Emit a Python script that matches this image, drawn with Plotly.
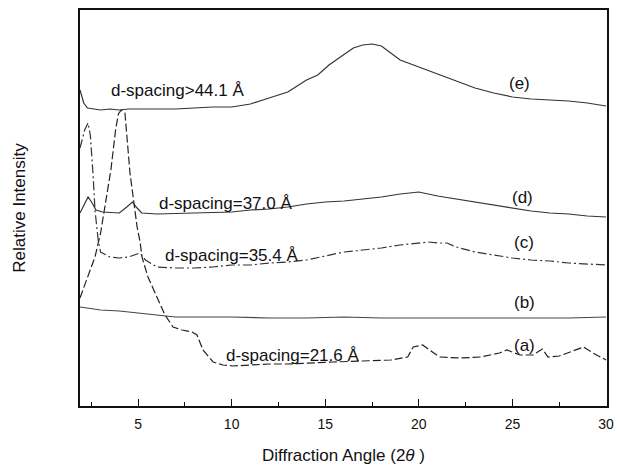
import plotly.graph_objects as go

# ---- data (2-theta in degrees, relative intensity in arbitrary units) ----
xa = [1.9, 2.3, 2.7, 3.0, 3.3, 3.55, 3.8, 3.95, 4.1, 4.3, 4.57, 4.95, 5.11, 5.21, 5.53, 6.01,
      6.44, 6.87, 7.35, 7.88, 8.15, 8.47, 9.01, 9.54, 10.07, 11.0, 12.0, 13.0, 14.0, 15.4,
      17.0, 18.5, 19.4, 19.7, 20.2, 20.76, 21.1, 22.2, 23.3, 24.3, 24.7, 25.4, 26.1, 26.6,
      26.9, 27.5, 28.45, 28.8, 29.3, 30.0]
ya = [108, 129, 149, 173, 206, 236, 276, 292, 296, 293, 233, 179, 164, 149, 129, 109,
      91, 79, 76, 74, 71, 56, 44, 41, 40, 41, 42, 42, 43, 44,
      45, 46, 49, 59, 61, 54, 49, 48, 49, 53, 56, 51, 51, 57,
      49, 50, 56, 59, 53, 46]

xb = [1.9, 3.0, 4.0, 5.0, 6.0, 7.0, 8.0, 10.0, 12.0, 14.0, 16.0, 18.0, 20.0, 22.0, 24.0,
      26.0, 28.0, 30.0]
yb = [99, 96, 95, 93, 91, 89, 89, 89, 88, 88, 89, 88, 88, 88, 88, 88, 88, 89]

xc = [1.9, 2.0, 2.15, 2.33, 2.45, 2.6, 2.7, 2.87, 3.0, 3.5, 4.0, 4.5, 4.9, 5.1, 5.4, 6.0,
      7.0, 8.0, 9.0, 10.0, 11.0, 12.0, 13.0, 14.0, 15.0, 16.0, 17.0, 18.0, 19.0, 20.0,
      20.5, 21.0, 21.5, 22.0, 23.0, 24.0, 25.0, 26.0, 27.0, 28.0, 29.0, 30.0]
yc = [258, 266, 276, 283, 271, 231, 196, 166, 154, 149, 148, 149, 152, 153, 146, 139,
      138, 138, 139, 141, 141, 143, 144, 146, 150, 154, 156, 158, 161, 163,
      164, 163, 163, 159, 154, 151, 148, 146, 145, 143, 142, 141]

xd = [1.9, 2.1, 2.33, 2.55, 2.75, 3.1, 4.0, 4.4, 4.7, 4.95, 5.2, 6.0, 8.0, 10.0, 11.0,
      12.0, 13.0, 14.0, 15.0, 16.0, 17.0, 18.0, 19.0, 20.0, 21.0, 22.0, 23.0, 24.0, 25.0,
      26.0, 27.0, 28.0, 29.0, 30.0]
yd = [193, 201, 209, 203, 196, 194, 193, 199, 204, 198, 193, 192, 193, 194, 196,
      197, 199, 202, 204, 205, 207, 209, 212, 214, 210, 207, 204, 201, 198,
      195, 193, 192, 190, 189]

xe = [1.9, 2.1, 2.3, 2.6, 3.0, 3.5, 4.0, 4.5, 5.0, 6.0, 7.0, 8.0, 9.0, 10.0, 11.0, 12.0,
      13.0, 14.0, 14.6, 15.2, 16.0, 16.5, 17.0, 17.5, 18.0, 18.5, 19.0, 20.0, 21.0, 22.0,
      23.0, 24.0, 25.0, 26.0, 27.0, 28.0, 29.0, 30.0]
ye = [316, 303, 298, 297, 296, 297, 296, 297, 297, 297, 297, 298, 299, 299, 302, 308,
      314, 326, 331, 341, 352, 358, 361, 362, 360, 353, 346, 339, 332, 325,
      318, 313, 309, 307, 306, 305, 303, 300]

curve_labels = ["(a)", "(b)", "(c)", "(d)", "(e)"]
label_x = [25.0, 25.0, 24.95, 24.85, 24.7]
label_y = [61, 104, 164, 209, 323]

dspacing_text = ["d-spacing>44.1 Å", "d-spacing=37.0 Å", "d-spacing=35.4 Å", "d-spacing=21.6 Å"]
dspacing_x = [3.45, 6.01, 6.34, 9.59]
dspacing_y = [316, 203, 151, 51]

xticks = [5, 10, 15, 20, 25, 30]

FONT = "Liberation Sans, Arial, Helvetica, sans-serif"

fig = go.Figure()
series = [
    (xa, ya, "8px,3px", "#222"),
    (xb, yb, "solid", "#444"),
    (xc, yc, "9px,3px,2px,3px", "#333"),
    (xd, yd, "solid", "#333"),
    (xe, ye, "solid", "#333"),
]
for (x, y, dash, col), name in zip(series, curve_labels):
    fig.add_trace(go.Scatter(x=x, y=y, mode="lines", name=name,
                             line=dict(color=col, width=1.2, dash=dash),
                             showlegend=False, hoverinfo="skip"))

for t, x, y in zip(curve_labels, label_x, label_y):
    fig.add_annotation(x=x, y=y, text=t, showarrow=False, xanchor="left", yanchor="middle",
                       font=dict(family=FONT, size=17, color="#111"))
for t, x, y in zip(dspacing_text, dspacing_x, dspacing_y):
    fig.add_annotation(x=x, y=y, text=t, showarrow=False, xanchor="left", yanchor="middle",
                       font=dict(family=FONT, size=17, color="#111"))

fig.update_layout(
    width=617, height=465,
    margin=dict(l=80, r=10, t=10, b=59),
    paper_bgcolor="white", plot_bgcolor="white",
    font=dict(family=FONT, color="#111"),
    xaxis=dict(range=[1.9, 30.05], tickvals=xticks, ticktext=[str(v) for v in xticks],
               automargin=False,
               ticks="inside", ticklen=7, tickwidth=1, tickcolor="#111",
               ticklabelstandoff=4,
               minor=dict(dtick=2.5, tick0=0, ticks="inside", ticklen=4, tickcolor="#111"),
               showline=True, linecolor="#111", linewidth=1.5, mirror=True,
               showgrid=False, zeroline=False,
               tickfont=dict(family=FONT, size=14, color="#111"),
               title=dict(text="Diffraction Angle (2<i>θ</i> )", standoff=24,
                          font=dict(family=FONT, size=17, color="#111"))),
    yaxis=dict(range=[0, 396], showticklabels=False, ticks="",
               automargin=False,
               showline=True, linecolor="#111", linewidth=1.5, mirror=True,
               showgrid=False, zeroline=False,
               title=dict(text="Relative Intensity", standoff=48,
                          font=dict(family=FONT, size=17, color="#111"))),
)

fig.write_html("out.html")
